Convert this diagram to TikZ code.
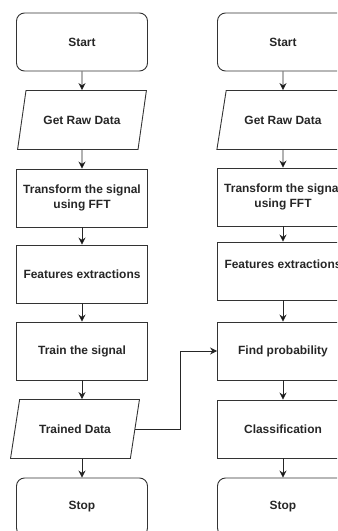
\documentclass[tikz,border=0pt]{standalone}
\usepackage{fontspec}
\setmainfont{Liberation Sans}
\usepackage{tikz}
\usetikzlibrary{shapes.geometric,arrows.meta}

\tikzset{
  box/.style={draw=black!80, line width=0.9bp, minimum width=131bp,
    minimum height=58bp, inner sep=2bp, align=center,
    font=\bfseries\fontsize{12}{14.5}\selectfont, text=black!85},
  term/.style={box, rounded corners=8bp},
  io/.style={box, trapezium, trapezium left angle=64, trapezium right angle=116,
    trapezium stretches=true, minimum width=130bp, minimum height=59bp},
  flow/.style={draw=black!85, line width=0.9bp, -{Stealth[length=7bp,width=7bp]}}
}

\begin{document}
\begin{tikzpicture}[x=1bp,y=-1bp]
    \useasboundingbox (0,0) rectangle (337,531);
    \clip (0,0) rectangle (337,531);

    % training
    \node[term](start1) at ( 82, 42) {Start};
    \node[io]  (raw1)   at ( 82,120) {Get Raw Data};
    \node[box] (fft1)   at ( 82,198) {Transform the signal\\using FFT};
    \node[box] (feat1)  at ( 82,274) {Features extractions};
    \node[box] (train)  at ( 82,351) {Train the signal};
    \node[io]  (tdata)  at ( 75,429) {Trained Data};
    \node[term](stop1)  at ( 82,507) {Stop};

    % testing
    \node[term](start2) at (283, 42) {Start};
    \node[io, trapezium left angle=62, trapezium right angle=118,
          minimum width=133bp] (raw2) at (283,120) {Get Raw Data};
    \node[box] (fft2)   at (283,197) {Transform the signal\\using FFT};
    \node[box] (feat2)  at (283,271) {Features extractions\\\mbox{}};
    \node[box] (prob)   at (283,351) {Find probability};
    \node[box] (class)  at (283,429) {Classification};
    \node[term](stop2)  at (283,507) {Stop};

    \coordinate (bend) at (180,0);

    \draw[flow] (start1) edge (raw1)
                (raw1) edge (fft1)
                (fft1) edge (feat1)
                (feat1) edge (train);
    \draw[flow] (train) -- (train |- tdata.north);
    \draw[flow] (stop1 |- tdata.south) -- (stop1);
    \draw[flow] (tdata.east) -- (bend |- tdata.east) |- (prob.west);

    \draw[flow] (start2) edge (raw2)
                (raw2) edge (fft2)
                (fft2) edge (feat2)
                (feat2) edge (prob)
                (prob) edge (class)
                (class) edge (stop2);
\end{tikzpicture}
\end{document}
